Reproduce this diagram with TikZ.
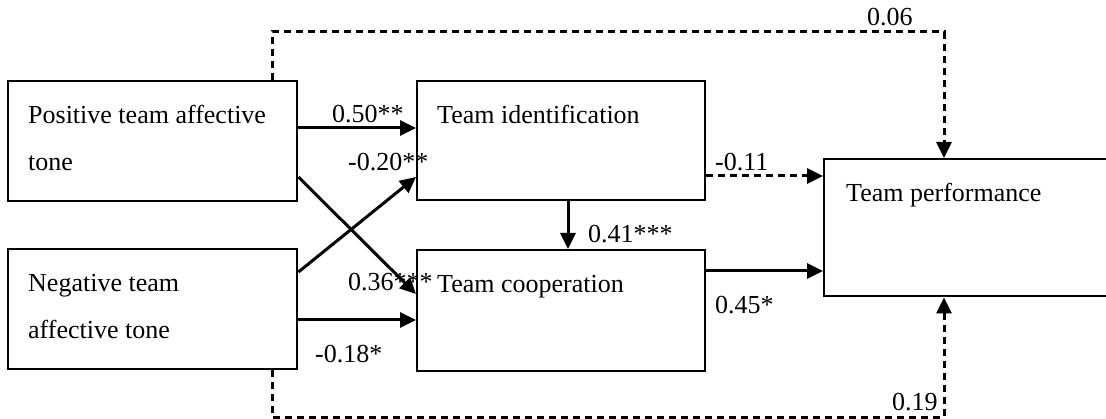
\documentclass[tikz,border=0pt]{standalone}
\usepackage{fontspec}
\setmainfont{Liberation Serif}
\usetikzlibrary{arrows.meta,calc}
\begin{document}
\begin{tikzpicture}[x=1pt,y=-1pt,
  box/.style={draw, line width=2.4pt, anchor=north west, inner sep=0pt},
  boxtxt/.style={anchor=base west, align=left, inner sep=0pt, font=\fontsize{26}{47}\selectfont},
  coef/.style={anchor=base west, inner sep=0pt, font=\fontsize{26}{31}\selectfont},
  effect/.style={line width=3pt, -{Triangle[length=16pt,width=15pt]}},
  weak/.style={effect, dash pattern=on 7pt off 5pt},
]
\useasboundingbox (0,0) rectangle (1106,419);

% construct boxes
\node[box, minimum width=289pt, minimum height=120pt] (pos)   at (7,80)    {};
\node[box, minimum width=289pt, minimum height=120pt] (neg)   at (7,248)   {};
\node[box, minimum width=288pt, minimum height=119pt] (ident) at (416,80)  {};
\node[box, minimum width=288pt, minimum height=121pt] (coop)  at (416,249) {};
\node[box, minimum width=300pt, minimum height=137pt] (perf)  at (823,158) {};

% box captions (base anchor sits on the last line)
\node[boxtxt] (posT)   at ($(pos.north west)+(21,91)$)   {Positive team affective\\tone};
\node[boxtxt] (negT)   at ($(neg.north west)+(21,91)$)   {Negative team\\affective tone};
\node[boxtxt] (identT) at ($(ident.north west)+(21,44)$) {Team identification};
\node[boxtxt] (coopT)  at ($(coop.north west)+(21,44)$)  {Team cooperation};
\node[boxtxt] (perfT)  at ($(perf.north west)+(23,44)$)  {Team performance};

% significant paths
\draw[effect] ($(pos.north east)+(0,48)$) -- ($(ident.north west)+(0,48)$);
\draw[effect] ($(pos.north east)+(0,97)$) -- ($(coop.north west)+(0,45)$);
\draw[effect] ($(neg.north east)+(0,24)$) -- ($(ident.north west)+(0,97)$);
\draw[effect] ($(neg.north east)+(0,72)$) -- ($(coop.north west)+(0,71)$);
\draw[effect] ($(ident.south west)+(152,0)$) -- ($(coop.north west)+(152,0)$);
\draw[effect] ($(coop.north east)+(0,22)$) -- ($(perf.north west)+(0,113)$);

% non-significant paths
\draw[weak] ($(ident.north east)+(0,96)$) -- ($(perf.north west)+(0,18)$);
\draw[weak] ($(pos.north west)+(265,0)$) -- ++(0,-48) -| ($(perf.north west)+(121,0)$);
\draw[weak] ($(neg.south west)+(265,0)$) -- ++(0,47) -| ($(perf.south west)+(121,0)$);

% path coefficients
\node[coef] (c1) at (332,123) {0.50**};
\node[coef] (c2) at (348,171) {-0.20**};
\node[coef] (c3) at (348,291) {0.36***};
\node[coef] (c4) at (315,363) {-0.18*};
\node[coef] (c5) at (588,243) {0.41***};
\node[coef] (c6) at (715,314) {0.45*};
\node[coef] (c7) at (715,171) {-0.11};
\node[coef] (c8) at (867,26)  {0.06};
\node[coef] (c9) at (892,411) {0.19};
\end{tikzpicture}
\end{document}
